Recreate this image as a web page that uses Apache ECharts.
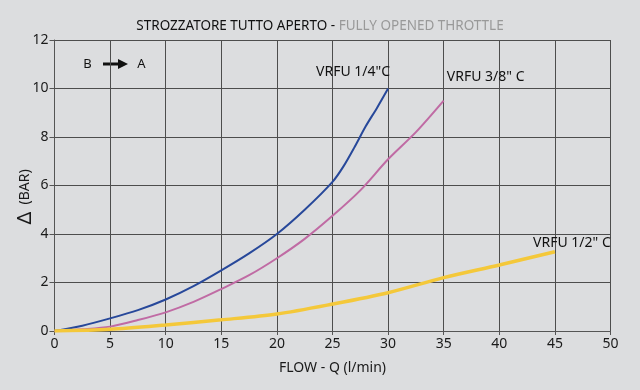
<!DOCTYPE html>
<html><head><meta charset="utf-8">
<script src="https://cdn.jsdelivr.net/npm/echarts@6/dist/echarts.min.js"></script>
<style>html,body{margin:0;padding:0;background:#dcdddf;}#c{width:640px;height:390px;}</style>
</head><body><div id="c"></div>
<script>
var xTicks = [0,5,10,15,20,25,30,35,40,45,50];
var yTicks = [0,2,4,6,8,10,12];
var flowQuarter = [0,2.5,5,7.5,10,12.5,15,17.5,20,22.5,25,26,27,28,29,30];
var barQuarter  = [0,0.22,0.52,0.86,1.3,1.85,2.5,3.2,4.0,5.0,6.15,6.8,7.6,8.45,9.2,10.0];
var flowThreeEighth = [0,2.5,5,7.5,10,12.5,15,17.5,20,22.5,25,27.5,30,32.5,35];
var barThreeEighth  = [0,0.07,0.18,0.45,0.77,1.2,1.73,2.3,3.0,3.8,4.75,5.8,7.08,8.2,9.5];
var flowHalf = [0,5,10,15,20,25,30,35,40,45];
var barHalf  = [0,0.07,0.25,0.46,0.7,1.11,1.58,2.2,2.72,3.27];
var names = ['VRFU 1/4"C','VRFU 3/8" C','VRFU 1/2" C'];
var titleMain = 'STROZZATORE TUTTO APERTO - ';
var titleSub = 'FULLY OPENED THROTTLE';
var xName = 'FLOW - Q (l/min)';

function pairs(xs, ys){ return xs.map(function(x,i){return [x, ys[i]];}); }
function endMark(xs, ys, text, off){
  return {silent:true, symbol:'circle', symbolSize:0, animation:false,
    data:[{coord:[xs[xs.length-1], ys[ys.length-1]],
      label:{show:true, formatter:text, position:'inside', offset:off,
             fontFamily:font, fontSize:14, color:'#111'}}]};
}
var font = 'Noto Sans';
var chart = echarts.init(document.getElementById('c'));
chart.setOption({
  backgroundColor:'#dcdddf',
  animation:false,
  grid:{left:54.5,right:29.5,top:40,bottom:59},
  title:{
    text:'{a|'+titleMain+'}{b|'+titleSub+'}',
    left:'center', top:14, itemGap:0,
    textStyle:{rich:{
      a:{fontFamily:font,fontSize:13.5,fontWeight:'normal',color:'#111'},
      b:{fontFamily:font,fontSize:13.5,fontWeight:'normal',color:'#999'}
    }}
  },
  xAxis:{
    type:'value', min:0, max:50, interval:5,
    name:xName, nameLocation:'middle', nameGap:30,
    nameTextStyle:{fontFamily:font,fontSize:14,color:'#1a1a1a'},
    axisLine:{lineStyle:{color:'#555',width:1}},
    axisTick:{show:true,length:4,lineStyle:{color:'#555'}},
    axisLabel:{fontFamily:font,fontSize:14,color:'#1a1a1a',margin:6,
      formatter:function(v){ return xTicks.indexOf(v)>=0 ? String(v) : ''; }},
    splitLine:{lineStyle:{color:'#4d4d4d',width:1}}
  },
  yAxis:{
    type:'value', min:0, max:12, interval:2,
    axisLine:{show:true,lineStyle:{color:'#555',width:1}},
    axisTick:{show:true,length:5,lineStyle:{color:'#555'}},
    axisLabel:{fontFamily:font,fontSize:14,color:'#1a1a1a',margin:6,
      formatter:function(v){ return yTicks.indexOf(v)>=0 ? String(v) : ''; }},
    splitLine:{lineStyle:{color:'#4d4d4d',width:1}}
  },
  series:[
    {name:names[0],type:'line',smooth:0.3,symbol:'none',
     lineStyle:{color:'#27489a',width:2},
     data:pairs(flowQuarter,barQuarter),
     markPoint:endMark(flowQuarter,barQuarter,names[0],[-35,-16])},
    {name:names[1],type:'line',smooth:0.3,symbol:'none',
     lineStyle:{color:'#c06ba4',width:2},
     data:pairs(flowThreeEighth,barThreeEighth),
     markPoint:endMark(flowThreeEighth,barThreeEighth,names[1],[42,-24])},
    {name:names[2],type:'line',smooth:0.3,symbol:'none',
     lineStyle:{color:'#f4c83a',width:3.5},
     data:pairs(flowHalf,barHalf),
     markPoint:endMark(flowHalf,barHalf,names[2],[17,-9])}
  ],
  graphic:[
    {type:'text',x:25,y:197,rotation:Math.PI/2,
     style:{text:'{d|Δ}{t|  (BAR)}',align:'center',verticalAlign:'middle',
       rich:{d:{fontFamily:font,fontSize:20,fill:'#1a1a1a'},t:{fontFamily:font,fontSize:14,fill:'#1a1a1a'}}}},
    {type:'text',x:87.5,y:64,style:{text:'B',font:'13px "Noto Sans"',fill:'#111',align:'center',verticalAlign:'middle'}},
    {type:'text',x:141.5,y:64,style:{text:'A',font:'13px "Noto Sans"',fill:'#111',align:'center',verticalAlign:'middle'}},
    {type:'line',shape:{x1:103,y1:64,x2:120,y2:64},style:{stroke:'#111',lineWidth:3}},
    {type:'polygon',shape:{points:[[118,59],[128,64],[118,69]]},style:{fill:'#111'}}
  ]
});
</script></body></html>
